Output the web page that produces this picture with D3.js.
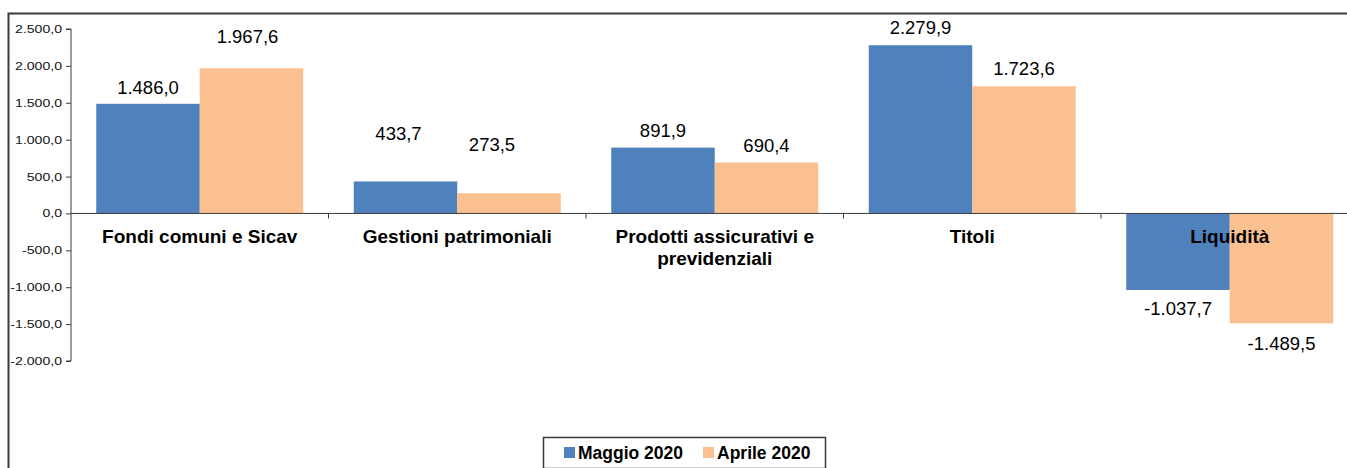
<!DOCTYPE html>
<html><head><meta charset="utf-8">
<script src="https://cdn.jsdelivr.net/npm/d3@7"></script>
<style>
html,body{margin:0;padding:0;background:#fff;overflow:hidden;}
svg{display:block;font-family:"Liberation Sans",Arial,sans-serif;}
</style></head>
<body>
<svg id="chart" width="1347" height="468"></svg>
<script>
const categories = ["Fondi comuni e Sicav", "Gestioni patrimoniali", "Prodotti assicurativi e|previdenziali", "Titoli", "Liquidità"];
const seriesNames = ["Maggio 2020", "Aprile 2020"];
const maggio = [1486.0, 433.7, 891.9, 2279.9, -1037.7];
const aprile = [1967.6, 273.5, 690.4, 1723.6, -1489.5];
const yTicks = [2500, 2000, 1500, 1000, 500, 0, -500, -1000, -1500, -2000];
const colors = ["#4F81BD", "#FAC090"];
// manual label nudges [dx, dy] (as placed in the original)
const labelNudgeMaggio = [[0,1],[-7,-30],[0,0],[0,0],[0,0]];
const labelNudgeAprile = [[-4,-14],[-17,-31],[0,0],[0,0],[0,2]];

const svg = d3.select("#chart");
const fmt = v => {
  const s = Math.abs(v).toFixed(1).split(".");
  const int = s[0].replace(/\B(?=(\d{3})+(?!\d))/g, ".");
  return (v < 0 ? "-" : "") + int + "," + s[1];
};

// outer chart border (only top/left visible)
svg.append("path").attr("d", "M8.5,480V13.5H1347")
  .attr("fill", "none").attr("stroke", "#3a3a3a").attr("stroke-width", 2);

const plotLeft = 71, band = 257.5;
const y = d3.scaleLinear().domain([-2000, 2500]).range([361, 29]);
const x = d3.scaleBand().domain(categories).range([plotLeft, plotLeft + band * categories.length]).padding(0);
const xs = d3.scaleBand().domain(seriesNames).range([0, x.bandwidth()]).paddingInner(0).paddingOuter(0.244);

const data = seriesNames.map((s, si) => ({
  name: s, color: colors[si],
  values: (si === 0 ? maggio : aprile),
  nudge: (si === 0 ? labelNudgeMaggio : labelNudgeAprile)
}));

// bars
data.forEach(s => {
  svg.append("g").selectAll("rect").data(s.values).join("rect")
    .attr("x", (d, i) => x(categories[i]) + xs(s.name))
    .attr("width", xs.bandwidth())
    .attr("y", d => Math.min(y(d), y(0)))
    .attr("height", d => Math.abs(y(d) - y(0)))
    .attr("fill", s.color);
});

// y axis
const yAxis = d3.axisLeft(y).tickValues(yTicks).tickSize(5).tickFormat(fmt);
const ga = svg.append("g").attr("transform", `translate(${plotLeft},0)`).call(yAxis);
ga.select(".domain").attr("stroke", "#3a3a3a").attr("d", `M-5,${y(2500)}H0V${y(-2000)}H-5`);
ga.selectAll(".tick line").attr("stroke", "#3a3a3a");
ga.selectAll(".tick text").attr("font-size", 11).attr("fill", "#111")
  .attr("font-family", "Liberation Sans, Arial, sans-serif")
  .attr("x", 0).attr("text-anchor", "end")
  .attr("transform", "translate(-9,0) scale(1.28,1)");

// zero line with category ticks
const xAxis = d3.axisBottom(x).tickSize(0).tickFormat("");
const gx = svg.append("g").attr("transform", `translate(0,${y(0)})`).call(xAxis);
gx.select(".domain").attr("stroke", "#3a3a3a").attr("d", `M${plotLeft},0H1347`);
svg.append("g").selectAll("line").data(categories.slice(1)).join("line")
  .attr("x1", d => x(d)).attr("x2", d => x(d))
  .attr("y1", y(0)).attr("y2", y(0) + 5).attr("stroke", "#3a3a3a");

// category labels
const cl = svg.append("g").selectAll("text").data(categories).join("text")
  .attr("x", d => x(d) + x.bandwidth() / 2).attr("y", 243)
  .attr("text-anchor", "middle").attr("font-size", 19).attr("font-weight", "bold").attr("fill", "#000");
cl.each(function(d) {
  const parts = d.split("|");
  d3.select(this).selectAll("tspan").data(parts).join("tspan")
    .attr("x", x(d) + x.bandwidth() / 2).attr("dy", (p, i) => i === 0 ? 0 : 22).text(p => p);
});

// data labels
data.forEach(s => {
  svg.append("g").selectAll("text").data(s.values).join("text")
    .attr("x", (d, i) => x(categories[i]) + xs(s.name) + xs.bandwidth() / 2 + s.nudge[i][0])
    .attr("y", (d, i) => (d >= 0 ? y(d) - 17.5 : y(d) + 18) + 6.5 + s.nudge[i][1])
    .attr("text-anchor", "middle").attr("font-size", 18.5).attr("fill", "#000")
    .text(d => fmt(d));
});

// legend
const lg = svg.append("g");
lg.append("rect").attr("x", 543.5).attr("y", 437.5).attr("width", 282).attr("height", 31)
  .attr("fill", "#fff").attr("stroke", "#3a3a3a").attr("stroke-width", 1.5);
const legX = [564, 703];
seriesNames.forEach((n, i) => {
  lg.append("rect").attr("x", legX[i]).attr("y", 447).attr("width", 11).attr("height", 11).attr("fill", colors[i]);
  lg.append("text").attr("x", legX[i] + 14).attr("y", 459).attr("font-size", 17.5).attr("font-weight", "bold")
    .attr("fill", "#000").text(n);
});
</script>
</body></html>
